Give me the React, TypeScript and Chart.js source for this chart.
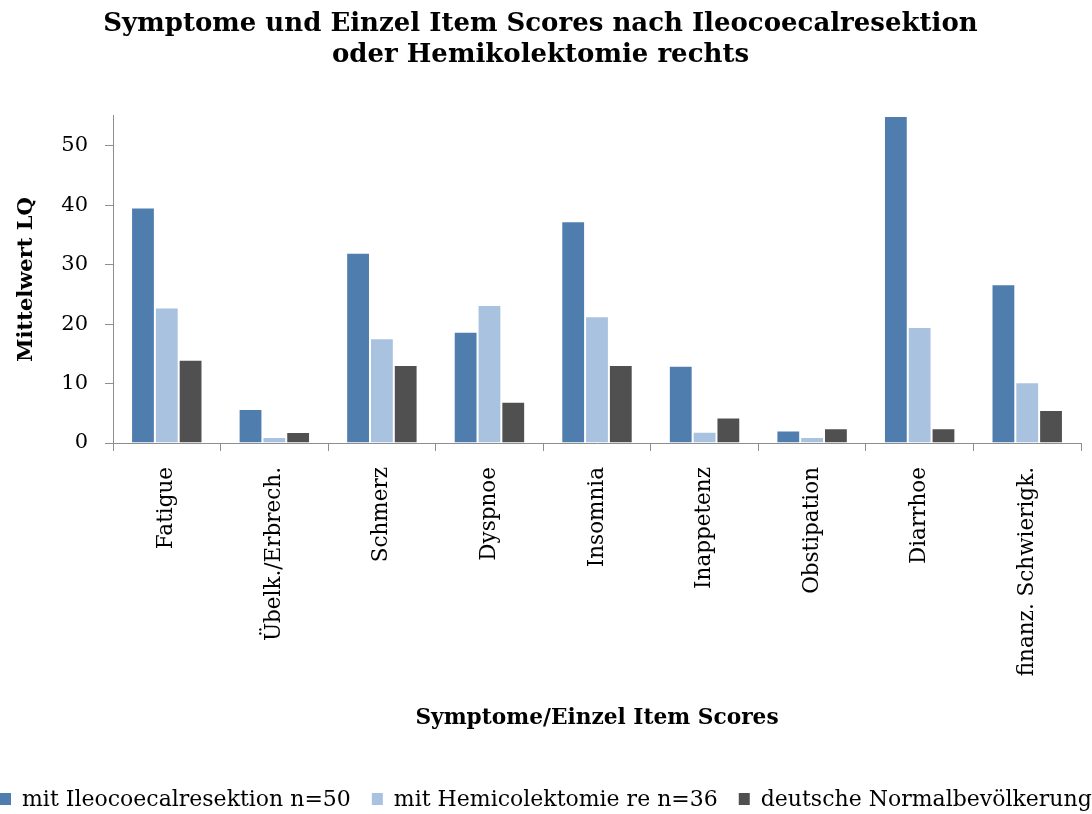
import React, { useEffect, useRef } from "react";
import { Chart, registerables } from "chart.js";

Chart.register(...registerables);

const categories = [
  "Fatigue",
  "Übelk./Erbrech.",
  "Schmerz",
  "Dyspnoe",
  "Insomnia",
  "Inappetenz",
  "Obstipation",
  "Diarrhoe",
  "finanz. Schwierigk.",
];
const ileocoecal = [39.6, 5.7, 32.0, 18.7, 37.3, 13.0, 2.1, 55.0, 26.7];
const hemicolektomie = [22.8, 1.0, 17.6, 23.2, 21.3, 1.9, 1.0, 19.5, 10.2];
const normalbevoelkerung = [14.0, 1.85, 13.1, 6.95, 13.1, 4.3, 2.5, 2.5, 5.55];
const seriesLabels = [
  "mit Ileocoecalresektion n=50",
  "mit Hemicolektomie re n=36",
  "deutsche Normalbevölkerung",
];
const seriesColors = ["#4f7dad", "#a8c2e0", "#505050"];
const yTickValues = [0, 10, 20, 30, 40, 50];
const yMax = 55;
const titleLines = [
  "Symptome und Einzel Item Scores nach Ileocoecalresektion",
  "oder Hemikolektomie rechts",
];
const xTitle = "Symptome/Einzel Item Scores";
const yTitle = "Mittelwert LQ";

const FONT = "'DejaVu Serif', 'Liberation Serif', serif";
const AXIS_COLOR = "#8e8e8e";

const bottomLegend = {
  id: "bottomLegend",
  afterDraw(chart: any) {
    const ctx = chart.ctx;
    ctx.save();
    ctx.font = `22px ${FONT}`;
    ctx.textBaseline = "middle";
    ctx.textAlign = "left";
    let x = 0;
    const y = 800;
    chart.data.datasets.forEach((ds: any) => {
      ctx.fillStyle = ds.backgroundColor;
      ctx.fillRect(x, y - 7, 11, 12);
      ctx.fillStyle = "#000";
      ctx.fillText(ds.label, x + 22, y);
      x += 22 + ctx.measureText(ds.label).width + 21;
    });
    ctx.restore();
  },
};

export default function App() {
  const ref = useRef<HTMLCanvasElement | null>(null);

  useEffect(() => {
    document.body.style.margin = "0";
    const canvas = ref.current;
    if (!canvas) return;
    const chart = new Chart(canvas, {
      type: "bar",
      data: {
        labels: categories,
        datasets: [ileocoecal, hemicolektomie, normalbevoelkerung].map((d, i) => ({
          label: seriesLabels[i],
          data: d,
          backgroundColor: seriesColors[i],
          borderColor: "rgba(255,255,255,0.3)",
          borderWidth: 1,
          barPercentage: 1,
          categoryPercentage: 0.664,
        })),
      },
      options: {
        responsive: false,
        animation: false,
        devicePixelRatio: 1,
        layout: { padding: { top: 0, right: 11, bottom: 71, left: 0 } },
        plugins: {
          legend: { display: false },
          tooltip: { enabled: false },
          title: {
            display: true,
            text: titleLines,
            color: "#000",
            font: { family: FONT, size: 26, weight: "bold", lineHeight: 1.19 },
            padding: { top: 9, bottom: 45 },
          },
        },
        scales: {
          x: {
            afterFit(scale: any) {
              scale.height = 300;
            },
            grid: {
              drawOnChartArea: false,
              drawTicks: true,
              tickLength: 8,
              color: AXIS_COLOR,
              offset: true,
            },
            border: { color: AXIS_COLOR, width: 1 },
            ticks: {
              color: "#000",
              minRotation: 90,
              maxRotation: 90,
              autoSkip: false,
              padding: 16,
              font: { family: FONT, size: 21.5 },
            },
            title: {
              display: true,
              text: xTitle,
              color: "#000",
              font: { family: FONT, size: 21.7, weight: "bold" },
              padding: { top: 0, bottom: 12 },
            },
          },
          y: {
            min: 0,
            max: yMax,
            afterFit(scale: any) {
              scale.width = 113;
            },
            afterBuildTicks(scale: any) {
              scale.ticks = yTickValues.map((v) => ({ value: v }));
            },
            grid: {
              drawOnChartArea: false,
              drawTicks: true,
              tickLength: 8,
              color: AXIS_COLOR,
            },
            border: { color: AXIS_COLOR, width: 1 },
            ticks: {
              color: "#000",
              padding: 17,
              font: { family: FONT, size: 21 },
            },
            title: {
              display: true,
              text: yTitle,
              color: "#000",
              font: { family: FONT, size: 21, weight: "bold" },
              padding: { top: 14, bottom: 0 },
            },
          },
        },
      },
      plugins: [bottomLegend],
    });
    return () => chart.destroy();
  }, []);

  return <canvas ref={ref} width={1092} height={814} style={{ display: "block" }} />;
}
